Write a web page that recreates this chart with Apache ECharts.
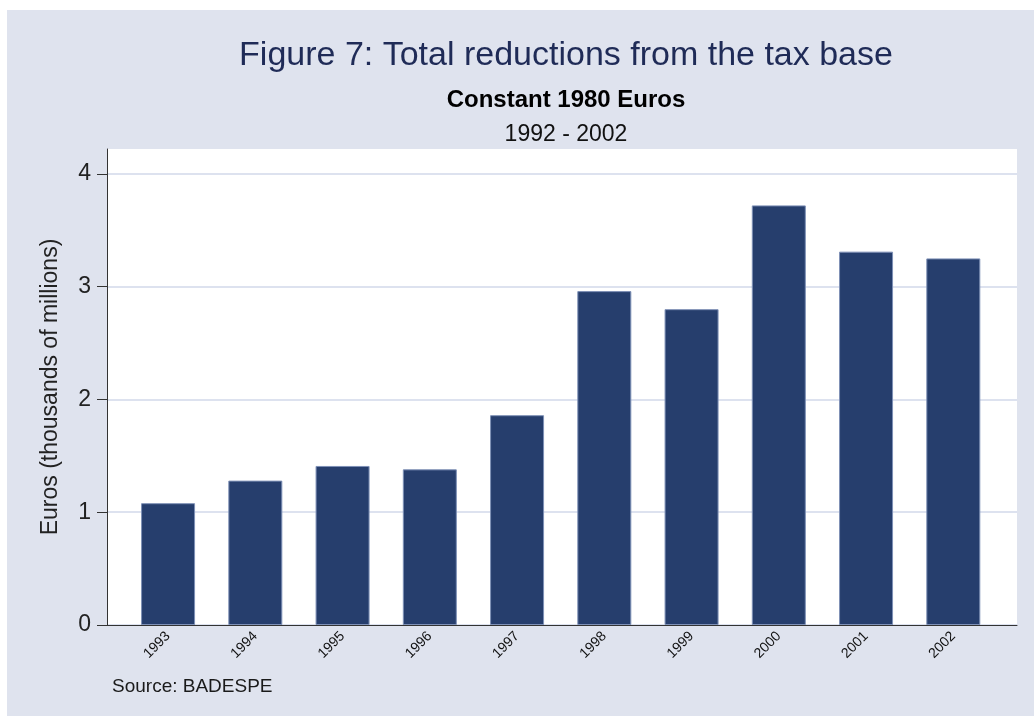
<!DOCTYPE html>
<html>
<head>
<meta charset="utf-8">
<style>
  html, body { margin: 0; padding: 0; background: #fff; }
  #chart { width: 1034px; height: 716px; }
</style>
<script src="https://cdn.jsdelivr.net/npm/echarts@6/dist/echarts.min.js"></script>
</head>
<body>
<div id="chart"></div>
<script>
const years = [1993, 1994, 1995, 1996, 1997, 1998, 1999, 2000, 2001, 2002];
const reductions = [1.08, 1.28, 1.41, 1.38, 1.86, 2.96, 2.80, 3.72, 3.31, 3.25];
const yTicks = [0, 1, 2, 3, 4];

const chart = echarts.init(document.getElementById('chart'));
const font = '"Liberation Sans", Arial, sans-serif';

chart.setOption({
  backgroundColor: '#ffffff',
  animation: false,
  graphic: [
    {
      type: 'rect',
      z: -10,
      silent: true,
      shape: { x: 7, y: 10, width: 1027, height: 706 },
      style: { fill: '#dfe3ee' }
    },
    {
      type: 'text',
      left: 112,
      top: 677,
      style: { text: 'Source: BADESPE', font: '19px ' + font, fill: '#1a1a1a' }
    }
  ],
  title: [
    {
      text: 'Figure 7: Total reductions from the tax base',
      left: 561, top: 34, textAlign: 'center',
      textStyle: { fontFamily: font, fontSize: 34, fontWeight: 'normal', color: '#1f2b57' }
    },
    {
      text: 'Constant 1980 Euros',
      left: 561, top: 83, textAlign: 'center',
      textStyle: { fontFamily: font, fontSize: 24, fontWeight: 'bold', color: '#000' }
    },
    {
      text: '1992 - 2002',
      left: 561, top: 118, textAlign: 'center',
      textStyle: { fontFamily: font, fontSize: 23, fontWeight: 'normal', color: '#111' }
    }
  ],
  grid: {
    left: 107, right: 17, top: 149, bottom: 91,
    show: true, backgroundColor: '#ffffff', borderWidth: 0
  },
  xAxis: {
    type: 'value',
    min: 1992.3,
    max: 2002.73,
    axisLine: { show: true, onZero: false, lineStyle: { color: '#333', width: 1 } },
    axisTick: { show: false },
    splitLine: { show: false },
    axisLabel: {
      customValues: years,
      rotate: 45,
      margin: 9,
      fontFamily: font,
      fontSize: 14,
      color: '#111',
      formatter: (v) => String(v)
    }
  },
  yAxis: {
    type: 'value',
    min: 0,
    max: 4.22,
    name: 'Euros (thousands of millions)',
    nameLocation: 'middle',
    nameGap: 45,
    nameTextStyle: { fontFamily: font, fontSize: 23, color: '#222' },
    axisLine: { show: true, lineStyle: { color: '#333', width: 1 } },
    axisTick: { show: true, length: 10, customValues: yTicks, lineStyle: { color: '#333' } },
    axisLabel: {
      customValues: yTicks,
      margin: 16,
      fontFamily: font,
      fontSize: 23,
      color: '#222'
    },
    splitLine: { show: true, lineStyle: { color: '#dde2ef', width: 2 } }
  },
  series: [
    {
      type: 'bar',
      barWidth: 54,
      data: years.map((y, i) => [y, reductions[i]]),
      itemStyle: { color: '#263e6d', borderColor: '#7e90b6', borderWidth: 1 }
    }
  ]
});
</script>
</body>
</html>
